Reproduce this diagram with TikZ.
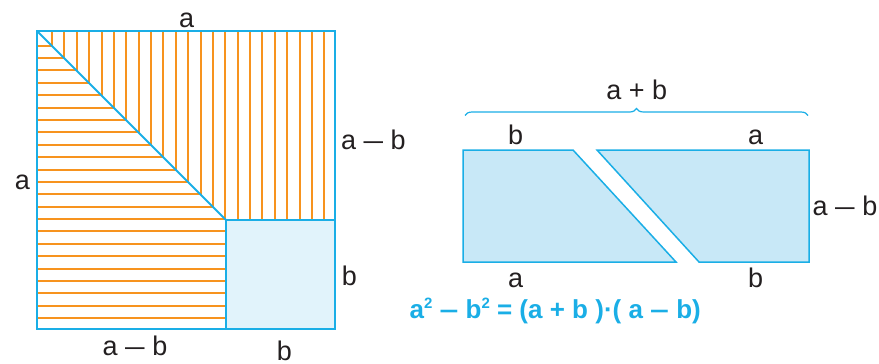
\documentclass[tikz,border=0pt]{standalone}
\usepackage{fontspec}
\setmainfont{Liberation Sans}
\usetikzlibrary{decorations.pathreplacing}
\definecolor{cyanline}{HTML}{1AAEE6}
\definecolor{hatch}{HTML}{F7931E}
\definecolor{fillA}{HTML}{E1F3FB}
\definecolor{fillB}{HTML}{C8E8F7}
\definecolor{txt}{HTML}{231F20}
\newcommand{\supsq}{\raisebox{0.36em}{\fontsize{15}{15}\selectfont 2}}
\newcommand{\mns}{\scalebox{1.3}[1]{–}}
\begin{document}
\begin{tikzpicture}[x=1pt,y=-1pt,
  lbl/.style={anchor=base, inner sep=0pt, text=txt, font=\fontsize{27}{30}\selectfont},
  formula/.style={anchor=base, inner sep=0pt, text=cyanline, font=\fontsize{26}{30}\selectfont\bfseries},
  hatchline/.style={draw=hatch, line width=1.6pt},
  frame/.style={draw=cyanline, line width=2pt, line join=miter},
  piece/.style={draw=cyanline, fill=fillB, line width=1.5pt, line join=miter},
  bracestyle/.style={draw=cyanline, line width=1.2pt, decorate, decoration={brace, amplitude=7pt}}]
\useasboundingbox (0,0) rectangle (879,364);

% ---------- left square ----------
\coordinate (TL) at (37,31);
\coordinate (TR) at (335,31);
\coordinate (BR) at (335,329);
\coordinate (BL) at (37,329);
\coordinate (C) at (226,220);
\coordinate (CR) at (335,220);
\coordinate (CB) at (226,329);

\fill[fillA] (C) rectangle (BR);

\foreach \k in {0,...,22}{
  \pgfmathsetmacro{\xx}{round(52+12.38*\k)}
  \pgfmathsetmacro{\ye}{min(\xx-6,220)}
  \draw[hatchline] (\xx,31) -- (\xx,\ye);
}
\foreach \k in {0,...,22}{
  \pgfmathsetmacro{\yy}{round(45.7+12.38*\k)}
  \pgfmathsetmacro{\xe}{min(\yy+6,226)}
  \draw[hatchline] (37,\yy) -- (\xe,\yy);
}

\draw[frame] (TL) -- (TR) -- (BR) -- (BL) -- cycle;
\draw[frame] (TL) -- (C);
\draw[frame] (C) -- (CR);
\draw[frame] (C) -- (CB);

\node[lbl] (la1) at (186.7,27.3) {a};
\node[lbl] (la2) at (22.3,189.3) {a};
\node[lbl] (lamb1) at (373.3,149.3) {a \mns{} b};
\node[lbl] (lb1) at (349.3,285) {b};
\node[lbl] (lamb2) at (135,355) {a \mns{} b};
\node[lbl] (lb2) at (284.3,360) {b};

% ---------- right pieces ----------
\draw[piece] (463,150) coordinate (p1) -- (573,150) coordinate (p2) -- (676,262) coordinate (p3) -- (463,262) coordinate (p4) -- cycle;
\draw[piece] (597,150) coordinate (q1) -- (809,150) coordinate (q2) -- (809,262) coordinate (q3) -- (699,262) coordinate (q4) -- cycle;

\coordinate (bs) at (465,115.5);
\coordinate (be) at (808,115.5);
\draw[bracestyle] (bs) -- (be);

\node[lbl] (rapb) at (636.7,99.3) {a + b};
\node[lbl] (rb1) at (515.7,144) {b};
\node[lbl] (ra1) at (755.7,144) {a};
\node[lbl] (ramb) at (845,215) {a \mns{} b};
\node[lbl] (ra2) at (515.7,287.3) {a};
\node[lbl] (rb2) at (755.7,287.3) {b};

\node[formula] (eq) at (555.2,318.3) {a\supsq{} \mns{} b\supsq{} = (a + b )·( a \mns{} b)};
\end{tikzpicture}
\end{document}
